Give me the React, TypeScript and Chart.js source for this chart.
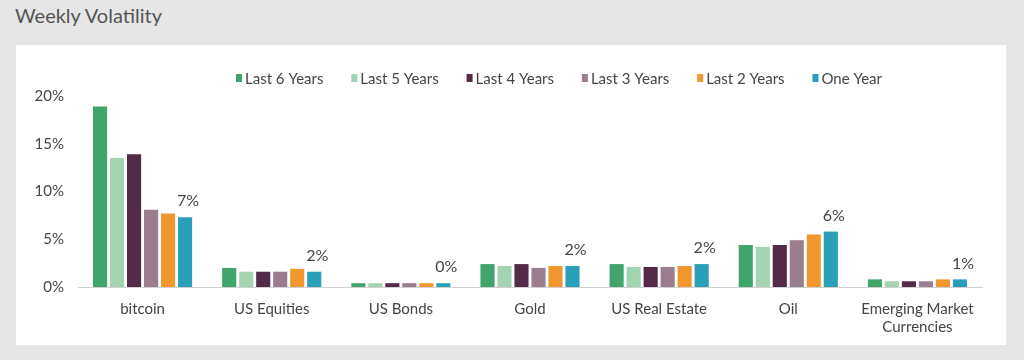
import React, { useEffect, useRef } from "react";
import { Chart, registerables } from "chart.js";

Chart.register(...registerables);

const categories: (string | string[])[] = [
  "bitcoin",
  "US Equities",
  "US Bonds",
  "Gold",
  "US Real Estate",
  "Oil",
  ["Emerging Market", "Currencies"],
];
const seriesNames = ["Last 6 Years", "Last 5 Years", "Last 4 Years", "Last 3 Years", "Last 2 Years", "One Year"];
const seriesColors = ["#3fa56a", "#a2d4b2", "#532a48", "#9a7e8f", "#f0982f", "#2a9fb8"];
const last6Years = [18.9, 2.0, 0.4, 2.4, 2.4, 4.4, 0.8];
const last5Years = [13.5, 1.6, 0.4, 2.2, 2.1, 4.2, 0.6];
const last4Years = [13.9, 1.6, 0.4, 2.4, 2.1, 4.4, 0.6];
const last3Years = [8.1, 1.6, 0.4, 2.0, 2.1, 4.9, 0.6];
const last2Years = [7.7, 1.9, 0.4, 2.2, 2.2, 5.5, 0.8];
const oneYear = [7.3, 1.6, 0.4, 2.2, 2.4, 5.8, 0.8];
const yTicks = [0, 5, 10, 15, 20];

const FONT = "Lato, 'Open Sans', sans-serif";
const TEXT = "#454545";

const legendPlugin = {
  id: "customLegend",
  afterDraw(chart: any) {
    const ctx = chart.ctx;
    ctx.save();
    ctx.font = `15px ${FONT}`;
    ctx.textBaseline = "middle";
    const boxW = 6;
    const boxH = 8;
    const left = 220;
    const span = 646;
    const widths = chart.data.datasets.map((d: any) => boxW + 3 + ctx.measureText(d.label).width);
    const sum = widths.reduce((a: number, b: number) => a + b, 0);
    const gap = (span - sum) / (widths.length - 1);
    let x = left;
    const y = 34;
    chart.data.datasets.forEach((d: any, i: number) => {
      ctx.fillStyle = d.backgroundColor;
      ctx.fillRect(x, y - boxH / 2 - 1, boxW, boxH);
      ctx.fillStyle = TEXT;
      ctx.textAlign = "left";
      ctx.fillText(d.label, x + boxW + 3, y);
      x += widths[i] + gap;
    });
    ctx.restore();
  },
};

const valueLabelPlugin = {
  id: "valueLabels",
  afterDatasetsDraw(chart: any) {
    const ctx = chart.ctx;
    const idx = chart.data.datasets.length - 1;
    const meta = chart.getDatasetMeta(idx);
    ctx.save();
    ctx.font = `16px ${FONT}`;
    ctx.fillStyle = TEXT;
    ctx.textAlign = "center";
    ctx.textBaseline = "middle";
    meta.data.forEach((bar: any, i: number) => {
      const v = chart.data.datasets[idx].data[i] as number;
      ctx.fillText(`${Math.round(v)}%`, bar.x + 3, bar.y - 16);
    });
    ctx.restore();
  },
};

export default function App() {
  const canvasRef = useRef<HTMLCanvasElement | null>(null);

  useEffect(() => {
    document.body.style.margin = "0";
    const values = [last6Years, last5Years, last4Years, last3Years, last2Years, oneYear];
    const chart = new Chart(canvasRef.current as HTMLCanvasElement, {
      type: "bar",
      data: {
        labels: categories,
        datasets: seriesNames.map((name, i) => ({
          label: name,
          data: values[i],
          backgroundColor: seriesColors[i],
          borderWidth: 0,
          categoryPercentage: 0.79,
          barPercentage: 0.83,
        })),
      },
      options: {
        animation: false,
        responsive: false,
        maintainAspectRatio: false,
        layout: { padding: { top: 51, right: 24, bottom: 0, left: 0 } },
        plugins: {
          legend: { display: false },
          tooltip: { enabled: false },
        },
        scales: {
          x: {
            grid: { display: false, drawTicks: false },
            border: { display: true, color: "#d0d0d0", width: 1 },
            ticks: {
              color: TEXT,
              font: { family: FONT, size: 15 },
              padding: 13,
              maxRotation: 0,
              autoSkip: false,
            },
            afterFit: (s: any) => {
              s.height = 58;
            },
          },
          y: {
            min: 0,
            max: 20,
            grid: { display: false, drawTicks: false },
            border: { display: false },
            afterBuildTicks: (s: any) => {
              s.ticks = yTicks.map((v) => ({ value: v }));
            },
            ticks: {
              color: TEXT,
              font: { family: FONT, size: 15 },
              padding: 14,
              callback: (v: any) => `${v}%`,
            },
            afterFit: (s: any) => {
              s.width = 62;
            },
          },
        },
      },
      plugins: [legendPlugin, valueLabelPlugin],
    });
    return () => chart.destroy();
  }, []);

  return (
    <div style={{ position: "relative", width: 1024, height: 360, background: "#e6e6e6", overflow: "hidden" }}>
      <div
        style={{
          position: "absolute",
          left: 15,
          top: 2,
          fontFamily: FONT,
          fontSize: 20,
          color: "#555555",
          lineHeight: "26px",
        }}
      >
        Weekly Volatility
      </div>
      <div style={{ position: "absolute", left: 16, top: 45, width: 990, height: 300, background: "#ffffff" }}>
        <canvas ref={canvasRef} width={990} height={300} style={{ display: "block" }} />
      </div>
    </div>
  );
}
